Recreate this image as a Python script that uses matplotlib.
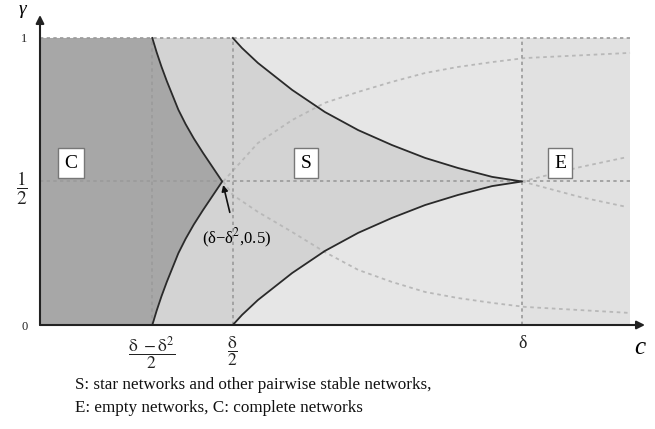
import matplotlib
matplotlib.use("Agg")
import matplotlib.pyplot as plt

plt.rcParams['font.family'] = ['Liberation Serif', 'DejaVu Serif']
plt.rcParams['mathtext.fontset'] = 'stix'

# schematic (not-to-scale) positions, delta = 1
tick_x = [0.232, 0.400, 1.000]
tick_x_labels = [r'$\dfrac{\mathrm{δ}\ -\mathrm{δ}^{2}}{2}$', r'$\dfrac{\mathrm{δ}}{2}$', 'δ']
tick_y = [0.0, 0.5, 1.0]
tick_y_labels = ['0', r'$\dfrac{1}{2}$', '1']
cusp_left = (0.380, 0.5)
x_end = 1.224

# boundary between C and S (gamma -> c)
gamma_c = [1.00, 0.95, 0.90, 0.85, 0.80, 0.75, 0.70, 0.65, 0.60, 0.55, 0.50,
           0.45, 0.40, 0.35, 0.30, 0.25, 0.20, 0.15, 0.10, 0.05, 0.00]
c_complete = [0.233, 0.242, 0.252, 0.263, 0.275, 0.287, 0.302, 0.319, 0.338, 0.358, 0.378,
              0.358, 0.338, 0.319, 0.302, 0.287, 0.275, 0.263, 0.252, 0.242, 0.233]

# boundary between S and E (ordered top -> cusp -> bottom)
c_star = [0.400, 0.419, 0.452, 0.523, 0.591, 0.660, 0.730, 0.799, 0.867, 0.938, 1.000,
          0.938, 0.867, 0.799, 0.730, 0.660, 0.591, 0.523, 0.452, 0.419, 0.400]
gamma_star = [1.000, 0.965, 0.913, 0.819, 0.742, 0.679, 0.627, 0.582, 0.547, 0.516, 0.500,
              0.484, 0.453, 0.418, 0.373, 0.321, 0.258, 0.181, 0.087, 0.035, 0.000]

# light dotted curves
dot_up_x = [0.380, 0.452, 0.523, 0.591, 0.660, 0.730, 0.799, 0.867, 0.938, 1.006, 1.224]
dot_up_y = [0.500, 0.634, 0.714, 0.774, 0.812, 0.847, 0.878, 0.899, 0.916, 0.930, 0.948]
dot_lo_x = [0.380, 0.400, 0.452, 0.523, 0.591, 0.660, 0.730, 0.799, 0.867, 0.938, 1.006, 1.224]
dot_lo_y = [0.500, 0.453, 0.394, 0.324, 0.254, 0.192, 0.150, 0.115, 0.094, 0.077, 0.063, 0.042]
dot_r1_x = [1.000, 1.120, 1.218]
dot_r1_y = [0.500, 0.550, 0.585]
dot_r2_x = [1.000, 1.120, 1.218]
dot_r2_y = [0.500, 0.446, 0.411]

fig = plt.figure(figsize=(6.55, 4.29), dpi=100)
ax = fig.add_axes([40/655, 104/429, 605/655, 310/429])
ax.set_xlim(0, 1.255)
ax.set_ylim(0, 1.08)
for s in ax.spines.values():
    s.set_visible(False)

# regions
ax.fill_between([0, x_end], 0, 1, color='#e6e6e6', lw=0, zorder=0)
ax.fill_between([tick_x[2], x_end], 0, 1, color='#e1e1e1', lw=0, zorder=0)
ax.fill(c_complete + c_star[::-1], gamma_c + gamma_star[::-1], color='#d3d3d3', lw=0, zorder=1)
ax.fill([0] + c_complete + [0], [1] + gamma_c + [0], color='#a7a7a7', lw=0, zorder=1)

# dotted curves
for xs, ys in [(dot_up_x, dot_up_y), (dot_lo_x, dot_lo_y), (dot_r1_x, dot_r1_y), (dot_r2_x, dot_r2_y)]:
    ax.plot(xs, ys, color='#b8b8b8', lw=1.3, ls=(0, (2, 2)), zorder=2)

# reference lines
ax.plot([0, x_end], [1, 1], color='#9a9a9a', lw=1.2, ls=(0, (2, 2)), zorder=2)
ax.plot([0, x_end], [0.5, 0.5], color='#9a9a9a', lw=1.2, ls=(0, (2, 2)), zorder=2)
for xv in tick_x:
    ax.plot([xv, xv], [0, 1], color='#9a9a9a', lw=1.2, ls=(0, (2, 2)), zorder=2)

# boundaries
ax.plot(c_complete, gamma_c, color='#2a2a2a', lw=1.3, zorder=3)
ax.plot(c_star, gamma_star, color='#2a2a2a', lw=1.3, zorder=3)

# axes with arrows
ax.annotate('', xy=(1.255, 0), xytext=(0, 0),
            arrowprops=dict(arrowstyle='-|>', color='#222', lw=1.5, mutation_scale=12, shrinkA=0, shrinkB=0),
            annotation_clip=False, zorder=4)
ax.annotate('', xy=(0, 1.08), xytext=(0, 0),
            arrowprops=dict(arrowstyle='-|>', color='#222', lw=1.5, mutation_scale=12, shrinkA=0, shrinkB=0),
            annotation_clip=False, zorder=4)

ax.set_xticks(tick_x)
ax.set_xticklabels(tick_x_labels)
ax.set_yticks(tick_y)
ax.set_yticklabels(tick_y_labels)
ax.tick_params(length=0, colors='#222')
ax.tick_params(axis='x', pad=7, labelsize=12.5)
ax.tick_params(axis='y', pad=9)
for lab in ax.get_yticklabels():
    lab.set_fontsize(14 if 'frac' in lab.get_text() else 9)
for lab in ax.get_xticklabels():
    if lab.get_text() == 'δ':
        lab.set_fontsize(13)

ax.text(-0.037, 1.098, 'γ', fontsize=14, ha='center', va='center', style='italic', clip_on=False)
ax.text(1.245, -0.08, 'c', fontsize=18, ha='center', va='center', style='italic', clip_on=False)

box = dict(boxstyle='square,pad=0.32', fc='white', ec='#777777', lw=1)
ax.text(0.064, 0.564, 'C', fontsize=14, ha='center', va='center', bbox=box, zorder=5)
ax.text(0.552, 0.564, 'S', fontsize=14, ha='center', va='center', bbox=box, zorder=5)
ax.text(1.079, 0.564, 'E', fontsize=14, ha='center', va='center', bbox=box, zorder=5)

ax.annotate('(δ−δ$^{2}$,0.5)', xy=(cusp_left[0], cusp_left[1] - 0.012), xytext=(0.407, 0.30),
            fontsize=12, ha='center', va='center',
            arrowprops=dict(arrowstyle='-|>', color='#111', lw=1.2, mutation_scale=9,
                            shrinkA=9, shrinkB=0), zorder=5)

fig.text(75/655, 1 - 385/429, 'S: star networks and other pairwise stable networks,',
         fontsize=12.3, ha='left', va='center', color='#111')
fig.text(75/655, 1 - 408/429, 'E: empty networks, C: complete networks',
         fontsize=12.3, ha='left', va='center', color='#111')

fig.savefig('out.png', dpi=100)
